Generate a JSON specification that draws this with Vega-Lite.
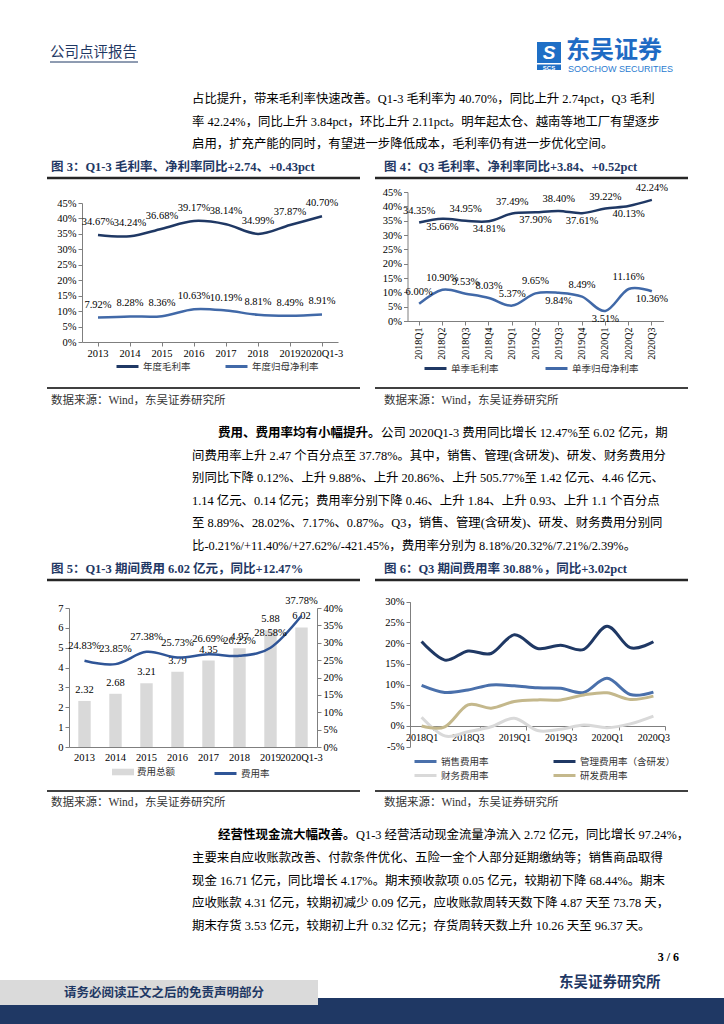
{
  "$schema": "https://vega.github.io/schema/vega-lite/v6.json",
  "width": 724,
  "height": 1024,
  "padding": 0,
  "autosize": {"type": "none"},
  "background": "#ffffff",
  "config": {
    "view": {"stroke": null},
    "axis": {"labelFont": "Liberation Serif", "labelFontSize": 10.5, "labelColor": "#000000", "domainColor": "#7f7f7f", "tickColor": "#7f7f7f", "tickSize": 4, "grid": false, "labelPadding": 2},
    "legend": {"labelFont": "Noto Sans CJK SC", "labelFontSize": 9.5, "labelColor": "#333333", "orient": "none", "direction": "horizontal", "symbolType": "M-2,0H2", "symbolSize": 121, "symbolStrokeWidth": 3, "labelOffset": 8.5, "padding": 0},
    "text": {"font": "Liberation Serif, Noto Sans CJK SC", "color": "#000000"}
  },
  "datasets": {
    "fig3": [
      {"year": "2013", "series": "年度毛利率", "value": 0.3467},
      {"year": "2014", "series": "年度毛利率", "value": 0.3424},
      {"year": "2015", "series": "年度毛利率", "value": 0.3668},
      {"year": "2016", "series": "年度毛利率", "value": 0.3917},
      {"year": "2017", "series": "年度毛利率", "value": 0.3814},
      {"year": "2018", "series": "年度毛利率", "value": 0.3499},
      {"year": "2019", "series": "年度毛利率", "value": 0.3787},
      {"year": "2020Q1-3", "series": "年度毛利率", "value": 0.4070},
      {"year": "2013", "series": "年度归母净利率", "value": 0.0792},
      {"year": "2014", "series": "年度归母净利率", "value": 0.0828},
      {"year": "2015", "series": "年度归母净利率", "value": 0.0836},
      {"year": "2016", "series": "年度归母净利率", "value": 0.1063},
      {"year": "2017", "series": "年度归母净利率", "value": 0.1019},
      {"year": "2018", "series": "年度归母净利率", "value": 0.0881},
      {"year": "2019", "series": "年度归母净利率", "value": 0.0849},
      {"year": "2020Q1-3", "series": "年度归母净利率", "value": 0.0891}
    ],
    "fig4": [
      {"q": "2018Q1", "series": "单季毛利率", "value": 0.3435},
      {"q": "2018Q2", "series": "单季毛利率", "value": 0.3566},
      {"q": "2018Q3", "series": "单季毛利率", "value": 0.3495},
      {"q": "2018Q4", "series": "单季毛利率", "value": 0.3481},
      {"q": "2019Q1", "series": "单季毛利率", "value": 0.3749},
      {"q": "2019Q2", "series": "单季毛利率", "value": 0.3790},
      {"q": "2019Q3", "series": "单季毛利率", "value": 0.3840},
      {"q": "2019Q4", "series": "单季毛利率", "value": 0.3761},
      {"q": "2020Q1", "series": "单季毛利率", "value": 0.3922},
      {"q": "2020Q2", "series": "单季毛利率", "value": 0.4013},
      {"q": "2020Q3", "series": "单季毛利率", "value": 0.4224},
      {"q": "2018Q1", "series": "单季归母净利率", "value": 0.0600},
      {"q": "2018Q2", "series": "单季归母净利率", "value": 0.1090},
      {"q": "2018Q3", "series": "单季归母净利率", "value": 0.0953},
      {"q": "2018Q4", "series": "单季归母净利率", "value": 0.0803},
      {"q": "2019Q1", "series": "单季归母净利率", "value": 0.0537},
      {"q": "2019Q2", "series": "单季归母净利率", "value": 0.0965},
      {"q": "2019Q3", "series": "单季归母净利率", "value": 0.0984},
      {"q": "2019Q4", "series": "单季归母净利率", "value": 0.0849},
      {"q": "2020Q1", "series": "单季归母净利率", "value": 0.0351},
      {"q": "2020Q2", "series": "单季归母净利率", "value": 0.1116},
      {"q": "2020Q3", "series": "单季归母净利率", "value": 0.1036}
    ],
    "fig5": [
      {"year": "2013", "total": 2.32, "rate": 0.2483},
      {"year": "2014", "total": 2.68, "rate": 0.2385},
      {"year": "2015", "total": 3.21, "rate": 0.2738},
      {"year": "2016", "total": 3.79, "rate": 0.2573},
      {"year": "2017", "total": 4.35, "rate": 0.2669},
      {"year": "2018", "total": 4.97, "rate": 0.2623},
      {"year": "2019", "total": 5.88, "rate": 0.2858},
      {"year": "2020Q1-3", "total": 6.02, "rate": 0.3778}
    ],
    "fig6": [
      {"q": "2018Q1", "series": "销售费用率", "value": 0.098},
      {"q": "2018Q2", "series": "销售费用率", "value": 0.081},
      {"q": "2018Q3", "series": "销售费用率", "value": 0.087},
      {"q": "2018Q4", "series": "销售费用率", "value": 0.099},
      {"q": "2019Q1", "series": "销售费用率", "value": 0.097},
      {"q": "2019Q2", "series": "销售费用率", "value": 0.092},
      {"q": "2019Q3", "series": "销售费用率", "value": 0.091},
      {"q": "2019Q4", "series": "销售费用率", "value": 0.081},
      {"q": "2020Q1", "series": "销售费用率", "value": 0.115},
      {"q": "2020Q2", "series": "销售费用率", "value": 0.076},
      {"q": "2020Q3", "series": "销售费用率", "value": 0.0818},
      {"q": "2018Q1", "series": "管理费用率（含研发）", "value": 0.204},
      {"q": "2018Q2", "series": "管理费用率（含研发）", "value": 0.159},
      {"q": "2018Q3", "series": "管理费用率（含研发）", "value": 0.181},
      {"q": "2018Q4", "series": "管理费用率（含研发）", "value": 0.175},
      {"q": "2019Q1", "series": "管理费用率（含研发）", "value": 0.220},
      {"q": "2019Q2", "series": "管理费用率（含研发）", "value": 0.187},
      {"q": "2019Q3", "series": "管理费用率（含研发）", "value": 0.195},
      {"q": "2019Q4", "series": "管理费用率（含研发）", "value": 0.185},
      {"q": "2020Q1", "series": "管理费用率（含研发）", "value": 0.241},
      {"q": "2020Q2", "series": "管理费用率（含研发）", "value": 0.189},
      {"q": "2020Q3", "series": "管理费用率（含研发）", "value": 0.2032},
      {"q": "2018Q1", "series": "财务费用率", "value": 0.021},
      {"q": "2018Q2", "series": "财务费用率", "value": -0.024},
      {"q": "2018Q3", "series": "财务费用率", "value": -0.014},
      {"q": "2018Q4", "series": "财务费用率", "value": -0.002},
      {"q": "2019Q1", "series": "财务费用率", "value": 0.0185},
      {"q": "2019Q2", "series": "财务费用率", "value": -0.011},
      {"q": "2019Q3", "series": "财务费用率", "value": -0.008},
      {"q": "2019Q4", "series": "财务费用率", "value": 0.0025},
      {"q": "2020Q1", "series": "财务费用率", "value": -0.004},
      {"q": "2020Q2", "series": "财务费用率", "value": 0.005},
      {"q": "2020Q3", "series": "财务费用率", "value": 0.0239},
      {"q": "2018Q1", "series": "研发费用率", "value": 0.000},
      {"q": "2018Q2", "series": "研发费用率", "value": -0.002},
      {"q": "2018Q3", "series": "研发费用率", "value": 0.051},
      {"q": "2018Q4", "series": "研发费用率", "value": 0.043},
      {"q": "2019Q1", "series": "研发费用率", "value": 0.059},
      {"q": "2019Q2", "series": "研发费用率", "value": 0.063},
      {"q": "2019Q3", "series": "研发费用率", "value": 0.063},
      {"q": "2019Q4", "series": "研发费用率", "value": 0.075},
      {"q": "2020Q1", "series": "研发费用率", "value": 0.080},
      {"q": "2020Q2", "series": "研发费用率", "value": 0.064},
      {"q": "2020Q3", "series": "研发费用率", "value": 0.0721}
    ],
    "para1": [
      {"line": 0, "text": "占比提升，带来毛利率快速改善。Q1-3 毛利率为 40.70%，同比上升 2.74pct，Q3 毛利"},
      {"line": 1, "text": "率 42.24%，同比上升 3.84pct，环比上升 2.11pct。明年起太仓、越南等地工厂有望逐步"},
      {"line": 2, "text": "启用，扩充产能的同时，有望进一步降低成本，毛利率仍有进一步优化空间。"}
    ],
    "para2": [
      {"line": 0, "part": "lead", "text": "费用、费用率均有小幅提升。"},
      {"line": 0, "part": "start", "text": "公司 2020Q1-3 费用同比增长 12.47%至 6.02 亿元，期"},
      {"line": 1, "part": "body", "text": "间费用率上升 2.47 个百分点至 37.78%。其中，销售、管理(含研发)、研发、财务费用分"},
      {"line": 2, "part": "body", "text": "别同比下降 0.12%、上升 9.88%、上升 20.86%、上升 505.77%至 1.42 亿元、4.46 亿元、"},
      {"line": 3, "part": "body", "text": "1.14 亿元、0.14 亿元；费用率分别下降 0.46、上升 1.84、上升 0.93、上升 1.1 个百分点"},
      {"line": 4, "part": "body", "text": "至 8.89%、28.02%、7.17%、0.87%。Q3，销售、管理(含研发)、研发、财务费用分别同"},
      {"line": 5, "part": "body", "text": "比-0.21%/+11.40%/+27.62%/-421.45%，费用率分别为 8.18%/20.32%/7.21%/2.39%。"}
    ],
    "para3": [
      {"line": 0, "part": "lead", "text": "经营性现金流大幅改善。"},
      {"line": 0, "part": "start", "text": "Q1-3 经营活动现金流量净流入 2.72 亿元，同比增长 97.24%，"},
      {"line": 1, "part": "body", "text": "主要来自应收账款改善、付款条件优化、五险一金个人部分延期缴纳等；销售商品取得"},
      {"line": 2, "part": "body", "text": "现金 16.71 亿元，同比增长 4.17%。期末预收款项 0.05 亿元，较期初下降 68.44%。期末"},
      {"line": 3, "part": "body", "text": "应收账款 4.31 亿元，较期初减少 0.09 亿元，应收账款周转天数下降 4.87 天至 73.78 天，"},
      {"line": 4, "part": "body", "text": "期末存货 3.53 亿元，较期初上升 0.32 亿元；存货周转天数上升 10.26 天至 96.37 天。"}
    ]
  },
  "layer": [
    {
      "layer": [
        {"data": {"values": [{}]}, "mark": {"type": "rect", "fill": "#1f3864"},
         "encoding": {"x": {"datum": 0, "type": "quantitative", "scale": {"domain": [0, 724], "range": [0, 724], "nice": false, "zero": false}, "axis": null}, "x2": {"datum": 724},
                      "y": {"datum": 998, "type": "quantitative", "scale": {"domain": [0, 1024], "range": [0, 1024], "nice": false, "zero": false}, "axis": null}, "y2": {"datum": 1024}}},
        {"data": {"values": [{}]}, "mark": {"type": "rect", "fill": "#dadada"},
         "encoding": {"x": {"datum": 0, "type": "quantitative", "scale": {"domain": [0, 724], "range": [0, 724], "nice": false, "zero": false}, "axis": null}, "x2": {"datum": 318},
                      "y": {"datum": 980, "type": "quantitative", "scale": {"domain": [0, 1024], "range": [0, 1024], "nice": false, "zero": false}, "axis": null}, "y2": {"datum": 1005}}},
        {"data": {"values": [{"t": "请务必阅读正文之后的免责声明部分"}]}, "mark": {"type": "text", "align": "left", "baseline": "middle", "font": "Noto Sans CJK SC", "fontWeight": "bold", "fontSize": 12.5, "fill": "#1f3864"},
         "encoding": {"x": {"datum": 64, "type": "quantitative", "scale": {"domain": [0, 724], "range": [0, 724], "nice": false, "zero": false}, "axis": null},
                      "y": {"datum": 992.5, "type": "quantitative", "scale": {"domain": [0, 1024], "range": [0, 1024], "nice": false, "zero": false}, "axis": null}, "text": {"field": "t"}}},
        {"data": {"values": [{"t": "东吴证券研究所"}]}, "mark": {"type": "text", "align": "left", "baseline": "middle", "font": "Noto Sans CJK SC", "fontWeight": "bold", "fontSize": 14.5, "fill": "#1f3864"},
         "encoding": {"x": {"datum": 559, "type": "quantitative", "scale": {"domain": [0, 724], "range": [0, 724], "nice": false, "zero": false}, "axis": null},
                      "y": {"datum": 983, "type": "quantitative", "scale": {"domain": [0, 1024], "range": [0, 1024], "nice": false, "zero": false}, "axis": null}, "text": {"field": "t"}}},
        {"data": {"values": [{"t": "3 / 6"}]}, "mark": {"type": "text", "align": "right", "baseline": "middle", "font": "Liberation Serif", "fontWeight": "bold", "fontSize": 12, "fill": "#000000"},
         "encoding": {"x": {"datum": 679, "type": "quantitative", "scale": {"domain": [0, 724], "range": [0, 724], "nice": false, "zero": false}, "axis": null},
                      "y": {"datum": 957, "type": "quantitative", "scale": {"domain": [0, 1024], "range": [0, 1024], "nice": false, "zero": false}, "axis": null}, "text": {"field": "t"}}},
        {"data": {"values": [{"t": "公司点评报告"}]}, "mark": {"type": "text", "align": "left", "baseline": "middle", "font": "Noto Sans CJK SC", "fontSize": 14.5, "fill": "#1f3864"},
         "encoding": {"x": {"datum": 50, "type": "quantitative", "scale": {"domain": [0, 724], "range": [0, 724], "nice": false, "zero": false}, "axis": null},
                      "y": {"datum": 53, "type": "quantitative", "scale": {"domain": [0, 1024], "range": [0, 1024], "nice": false, "zero": false}, "axis": null}, "text": {"field": "t"}}},
        {"data": {"values": [{}]}, "mark": {"type": "rule", "stroke": "#1f3864", "strokeWidth": 1},
         "encoding": {"x": {"datum": 50, "type": "quantitative", "scale": {"domain": [0, 724], "range": [0, 724], "nice": false, "zero": false}, "axis": null}, "x2": {"datum": 138},
                      "y": {"datum": 62, "type": "quantitative", "scale": {"domain": [0, 1024], "range": [0, 1024], "nice": false, "zero": false}, "axis": null}}},
        {"data": {"values": [{}]}, "mark": {"type": "rect", "fill": "#1e6fc6"},
         "encoding": {"x": {"datum": 537, "type": "quantitative", "scale": {"domain": [0, 724], "range": [0, 724], "nice": false, "zero": false}, "axis": null}, "x2": {"datum": 561},
                      "y": {"datum": 42, "type": "quantitative", "scale": {"domain": [0, 1024], "range": [0, 1024], "nice": false, "zero": false}, "axis": null}, "y2": {"datum": 63}}},
        {"data": {"values": [{"t": "S"}]}, "mark": {"type": "text", "align": "center", "baseline": "middle", "font": "Liberation Sans", "fontWeight": "bold", "fontStyle": "italic", "fontSize": 19, "fill": "#ffffff"},
         "encoding": {"x": {"datum": 549, "type": "quantitative", "scale": {"domain": [0, 724], "range": [0, 724], "nice": false, "zero": false}, "axis": null},
                      "y": {"datum": 53, "type": "quantitative", "scale": {"domain": [0, 1024], "range": [0, 1024], "nice": false, "zero": false}, "axis": null}, "text": {"field": "t"}}},
        {"data": {"values": [{}]}, "mark": {"type": "rect", "fill": "#1e6fc6"},
         "encoding": {"x": {"datum": 537, "type": "quantitative", "scale": {"domain": [0, 724], "range": [0, 724], "nice": false, "zero": false}, "axis": null}, "x2": {"datum": 561},
                      "y": {"datum": 64.5, "type": "quantitative", "scale": {"domain": [0, 1024], "range": [0, 1024], "nice": false, "zero": false}, "axis": null}, "y2": {"datum": 70}}},
        {"data": {"values": [{"t": "SCS"}]}, "mark": {"type": "text", "align": "center", "baseline": "middle", "font": "Liberation Sans", "fontWeight": "bold", "fontSize": 6, "fill": "#ffffff"},
         "encoding": {"x": {"datum": 549, "type": "quantitative", "scale": {"domain": [0, 724], "range": [0, 724], "nice": false, "zero": false}, "axis": null},
                      "y": {"datum": 67.5, "type": "quantitative", "scale": {"domain": [0, 1024], "range": [0, 1024], "nice": false, "zero": false}, "axis": null}, "text": {"field": "t"}}},
        {"data": {"values": [{"t": "东吴证券"}]}, "mark": {"type": "text", "align": "left", "baseline": "middle", "font": "Noto Sans CJK SC", "fontWeight": "bold", "fontSize": 24, "fill": "#1f6bc4"},
         "encoding": {"x": {"datum": 566, "type": "quantitative", "scale": {"domain": [0, 724], "range": [0, 724], "nice": false, "zero": false}, "axis": null},
                      "y": {"datum": 51, "type": "quantitative", "scale": {"domain": [0, 1024], "range": [0, 1024], "nice": false, "zero": false}, "axis": null}, "text": {"field": "t"}}},
        {"data": {"values": [{"t": "SOOCHOW SECURITIES"}]}, "mark": {"type": "text", "align": "left", "baseline": "middle", "font": "Liberation Sans", "fontSize": 9, "fill": "#2a7bd0"},
         "encoding": {"x": {"datum": 568, "type": "quantitative", "scale": {"domain": [0, 724], "range": [0, 724], "nice": false, "zero": false}, "axis": null},
                      "y": {"datum": 69, "type": "quantitative", "scale": {"domain": [0, 1024], "range": [0, 1024], "nice": false, "zero": false}, "axis": null}, "text": {"field": "t"}}},
        {"data": {"values": [{"t": "图 3：Q1-3 毛利率、净利率同比+2.74、+0.43pct"}]}, "mark": {"type": "text", "align": "left", "baseline": "middle", "fontWeight": "bold", "fontSize": 12.5, "fill": "#1f3864"},
         "encoding": {"x": {"datum": 51, "type": "quantitative", "scale": {"domain": [0, 724], "range": [0, 724], "nice": false, "zero": false}, "axis": null},
                      "y": {"datum": 167, "type": "quantitative", "scale": {"domain": [0, 1024], "range": [0, 1024], "nice": false, "zero": false}, "axis": null}, "text": {"field": "t"}}},
        {"data": {"values": [{"t": "图 4：Q3 毛利率、净利率同比+3.84、+0.52pct"}]}, "mark": {"type": "text", "align": "left", "baseline": "middle", "fontWeight": "bold", "fontSize": 12.5, "fill": "#1f3864"},
         "encoding": {"x": {"datum": 384, "type": "quantitative", "scale": {"domain": [0, 724], "range": [0, 724], "nice": false, "zero": false}, "axis": null},
                      "y": {"datum": 167, "type": "quantitative", "scale": {"domain": [0, 1024], "range": [0, 1024], "nice": false, "zero": false}, "axis": null}, "text": {"field": "t"}}},
        {"data": {"values": [{"t": "图 5：Q1-3 期间费用 6.02 亿元，同比+12.47%"}]}, "mark": {"type": "text", "align": "left", "baseline": "middle", "fontWeight": "bold", "fontSize": 12.5, "fill": "#1f3864"},
         "encoding": {"x": {"datum": 51, "type": "quantitative", "scale": {"domain": [0, 724], "range": [0, 724], "nice": false, "zero": false}, "axis": null},
                      "y": {"datum": 569, "type": "quantitative", "scale": {"domain": [0, 1024], "range": [0, 1024], "nice": false, "zero": false}, "axis": null}, "text": {"field": "t"}}},
        {"data": {"values": [{"t": "图 6：Q3 期间费用率 30.88%，同比+3.02pct"}]}, "mark": {"type": "text", "align": "left", "baseline": "middle", "fontWeight": "bold", "fontSize": 12.5, "fill": "#1f3864"},
         "encoding": {"x": {"datum": 384, "type": "quantitative", "scale": {"domain": [0, 724], "range": [0, 724], "nice": false, "zero": false}, "axis": null},
                      "y": {"datum": 569, "type": "quantitative", "scale": {"domain": [0, 1024], "range": [0, 1024], "nice": false, "zero": false}, "axis": null}, "text": {"field": "t"}}},
        {"data": {"values": [{"t": "数据来源：Wind，东吴证券研究所"}]}, "mark": {"type": "text", "align": "left", "baseline": "middle", "fontSize": 11.5, "fill": "#333333"},
         "encoding": {"x": {"datum": 51, "type": "quantitative", "scale": {"domain": [0, 724], "range": [0, 724], "nice": false, "zero": false}, "axis": null},
                      "y": {"datum": 401, "type": "quantitative", "scale": {"domain": [0, 1024], "range": [0, 1024], "nice": false, "zero": false}, "axis": null}, "text": {"field": "t"}}},
        {"data": {"values": [{"t": "数据来源：Wind，东吴证券研究所"}]}, "mark": {"type": "text", "align": "left", "baseline": "middle", "fontSize": 11.5, "fill": "#333333"},
         "encoding": {"x": {"datum": 384, "type": "quantitative", "scale": {"domain": [0, 724], "range": [0, 724], "nice": false, "zero": false}, "axis": null},
                      "y": {"datum": 401, "type": "quantitative", "scale": {"domain": [0, 1024], "range": [0, 1024], "nice": false, "zero": false}, "axis": null}, "text": {"field": "t"}}},
        {"data": {"values": [{"t": "数据来源：Wind，东吴证券研究所"}]}, "mark": {"type": "text", "align": "left", "baseline": "middle", "fontSize": 11.5, "fill": "#333333"},
         "encoding": {"x": {"datum": 51, "type": "quantitative", "scale": {"domain": [0, 724], "range": [0, 724], "nice": false, "zero": false}, "axis": null},
                      "y": {"datum": 803, "type": "quantitative", "scale": {"domain": [0, 1024], "range": [0, 1024], "nice": false, "zero": false}, "axis": null}, "text": {"field": "t"}}},
        {"data": {"values": [{"t": "数据来源：Wind，东吴证券研究所"}]}, "mark": {"type": "text", "align": "left", "baseline": "middle", "fontSize": 11.5, "fill": "#333333"},
         "encoding": {"x": {"datum": 384, "type": "quantitative", "scale": {"domain": [0, 724], "range": [0, 724], "nice": false, "zero": false}, "axis": null},
                      "y": {"datum": 803, "type": "quantitative", "scale": {"domain": [0, 1024], "range": [0, 1024], "nice": false, "zero": false}, "axis": null}, "text": {"field": "t"}}},
        {"data": {"values": [{}]}, "mark": {"type": "rule", "stroke": "#262626", "strokeWidth": 2.5},
         "encoding": {"x": {"datum": 47, "type": "quantitative", "scale": {"domain": [0, 724], "range": [0, 724], "nice": false, "zero": false}, "axis": null}, "x2": {"datum": 360},
                      "y": {"datum": 178, "type": "quantitative", "scale": {"domain": [0, 1024], "range": [0, 1024], "nice": false, "zero": false}, "axis": null}}},
        {"data": {"values": [{}]}, "mark": {"type": "rule", "stroke": "#262626", "strokeWidth": 2.5},
         "encoding": {"x": {"datum": 375, "type": "quantitative", "scale": {"domain": [0, 724], "range": [0, 724], "nice": false, "zero": false}, "axis": null}, "x2": {"datum": 688},
                      "y": {"datum": 178, "type": "quantitative", "scale": {"domain": [0, 1024], "range": [0, 1024], "nice": false, "zero": false}, "axis": null}}},
        {"data": {"values": [{}]}, "mark": {"type": "rule", "stroke": "#262626", "strokeWidth": 2.5},
         "encoding": {"x": {"datum": 47, "type": "quantitative", "scale": {"domain": [0, 724], "range": [0, 724], "nice": false, "zero": false}, "axis": null}, "x2": {"datum": 360},
                      "y": {"datum": 580, "type": "quantitative", "scale": {"domain": [0, 1024], "range": [0, 1024], "nice": false, "zero": false}, "axis": null}}},
        {"data": {"values": [{}]}, "mark": {"type": "rule", "stroke": "#262626", "strokeWidth": 2.5},
         "encoding": {"x": {"datum": 375, "type": "quantitative", "scale": {"domain": [0, 724], "range": [0, 724], "nice": false, "zero": false}, "axis": null}, "x2": {"datum": 688},
                      "y": {"datum": 580, "type": "quantitative", "scale": {"domain": [0, 1024], "range": [0, 1024], "nice": false, "zero": false}, "axis": null}}},
        {"data": {"values": [{}]}, "mark": {"type": "rule", "stroke": "#404040", "strokeWidth": 2},
         "encoding": {"x": {"datum": 47, "type": "quantitative", "scale": {"domain": [0, 724], "range": [0, 724], "nice": false, "zero": false}, "axis": null}, "x2": {"datum": 360},
                      "y": {"datum": 388, "type": "quantitative", "scale": {"domain": [0, 1024], "range": [0, 1024], "nice": false, "zero": false}, "axis": null}}},
        {"data": {"values": [{}]}, "mark": {"type": "rule", "stroke": "#404040", "strokeWidth": 2},
         "encoding": {"x": {"datum": 375, "type": "quantitative", "scale": {"domain": [0, 724], "range": [0, 724], "nice": false, "zero": false}, "axis": null}, "x2": {"datum": 688},
                      "y": {"datum": 388, "type": "quantitative", "scale": {"domain": [0, 1024], "range": [0, 1024], "nice": false, "zero": false}, "axis": null}}},
        {"data": {"values": [{}]}, "mark": {"type": "rule", "stroke": "#404040", "strokeWidth": 2},
         "encoding": {"x": {"datum": 47, "type": "quantitative", "scale": {"domain": [0, 724], "range": [0, 724], "nice": false, "zero": false}, "axis": null}, "x2": {"datum": 360},
                      "y": {"datum": 791, "type": "quantitative", "scale": {"domain": [0, 1024], "range": [0, 1024], "nice": false, "zero": false}, "axis": null}}},
        {"data": {"values": [{}]}, "mark": {"type": "rule", "stroke": "#404040", "strokeWidth": 2},
         "encoding": {"x": {"datum": 375, "type": "quantitative", "scale": {"domain": [0, 724], "range": [0, 724], "nice": false, "zero": false}, "axis": null}, "x2": {"datum": 688},
                      "y": {"datum": 791, "type": "quantitative", "scale": {"domain": [0, 1024], "range": [0, 1024], "nice": false, "zero": false}, "axis": null}}}
      ]
    },
    {
      "data": {"name": "para1"},
      "mark": {"type": "text", "align": "left", "baseline": "middle", "fontSize": 12.4},
      "encoding": {
        "x": {"datum": 192, "type": "quantitative", "scale": {"domain": [0, 724], "range": [0, 724], "nice": false, "zero": false}, "axis": null},
        "y": {"field": "line", "type": "quantitative", "scale": {"domain": [0, 2], "range": [99, 144], "nice": false, "zero": false}, "axis": null},
        "text": {"field": "text"}
      }
    },
    {
      "data": {"name": "para2"},
      "encoding": {
        "y": {"field": "line", "type": "quantitative", "scale": {"domain": [0, 5], "range": [433, 545.5], "nice": false, "zero": false}, "axis": null},
        "text": {"field": "text"}
      },
      "layer": [
        {"transform": [{"filter": "datum.part == 'lead'"}],
         "mark": {"type": "text", "align": "left", "baseline": "middle", "fontSize": 12.5, "fontWeight": "bold"},
         "encoding": {"x": {"datum": 218, "type": "quantitative", "scale": {"domain": [0, 724], "range": [0, 724], "nice": false, "zero": false}, "axis": null}}},
        {"transform": [{"filter": "datum.part == 'start'"}],
         "mark": {"type": "text", "align": "left", "baseline": "middle", "fontSize": 12.4},
         "encoding": {"x": {"datum": 381, "type": "quantitative", "scale": {"domain": [0, 724], "range": [0, 724], "nice": false, "zero": false}, "axis": null}}},
        {"transform": [{"filter": "datum.part == 'body'"}],
         "mark": {"type": "text", "align": "left", "baseline": "middle", "fontSize": 12.4},
         "encoding": {"x": {"datum": 192, "type": "quantitative", "scale": {"domain": [0, 724], "range": [0, 724], "nice": false, "zero": false}, "axis": null}}}
      ]
    },
    {
      "data": {"name": "para3"},
      "encoding": {
        "y": {"field": "line", "type": "quantitative", "scale": {"domain": [0, 4], "range": [835, 926], "nice": false, "zero": false}, "axis": null},
        "text": {"field": "text"}
      },
      "layer": [
        {"transform": [{"filter": "datum.part == 'lead'"}],
         "mark": {"type": "text", "align": "left", "baseline": "middle", "fontSize": 12.5, "fontWeight": "bold"},
         "encoding": {"x": {"datum": 218, "type": "quantitative", "scale": {"domain": [0, 724], "range": [0, 724], "nice": false, "zero": false}, "axis": null}}},
        {"transform": [{"filter": "datum.part == 'start'"}],
         "mark": {"type": "text", "align": "left", "baseline": "middle", "fontSize": 12.4},
         "encoding": {"x": {"datum": 356, "type": "quantitative", "scale": {"domain": [0, 724], "range": [0, 724], "nice": false, "zero": false}, "axis": null}}},
        {"transform": [{"filter": "datum.part == 'body'"}],
         "mark": {"type": "text", "align": "left", "baseline": "middle", "fontSize": 12.4},
         "encoding": {"x": {"datum": 192, "type": "quantitative", "scale": {"domain": [0, 724], "range": [0, 724], "nice": false, "zero": false}, "axis": null}}}
      ]
    },
    {
      "data": {"name": "fig3"},
      "encoding": {
        "x": {"field": "year", "type": "ordinal", "sort": null,
              "scale": {"type": "band", "domain": ["2013", "2014", "2015", "2016", "2017", "2018", "2019", "2020Q1-3"], "range": [82, 338], "paddingInner": 0, "paddingOuter": 0},
              "axis": {"orient": "bottom", "offset": -682, "labelAngle": 0, "title": null, "labelPadding": 2}},
        "y": {"field": "value", "type": "quantitative",
              "scale": {"domain": [0, 0.45], "range": [342, 203], "nice": false},
              "axis": {"orient": "left", "offset": -82, "values": [0, 0.05, 0.1, 0.15, 0.2, 0.25, 0.3, 0.35, 0.4, 0.45], "labelExpr": "round(datum.value * 100) + '%'", "title": null}}
      },
      "layer": [
        {"mark": {"type": "line", "interpolate": "cardinal", "strokeWidth": 2.5},
         "encoding": {"color": {"field": "series", "type": "nominal",
                                "scale": {"domain": ["年度毛利率", "年度归母净利率"], "range": ["#1f3864", "#4169a8"]},
                                "legend": {"title": null, "legendX": 120.5, "legendY": 359.5, "columnPadding": 28}}}},
        {"mark": {"type": "text", "baseline": "middle", "dy": -13, "fontSize": 10.5, "font": "Liberation Serif"},
         "encoding": {"text": {"field": "value", "type": "quantitative", "format": ".2%"}}}
      ]
    },
    {
      "data": {"name": "fig4"},
      "encoding": {
        "x": {"field": "q", "type": "ordinal", "sort": null,
              "scale": {"type": "band", "domain": ["2018Q1", "2018Q2", "2018Q3", "2018Q4", "2019Q1", "2019Q2", "2019Q3", "2019Q4", "2020Q1", "2020Q2", "2020Q3"], "range": [407.5, 663.5], "paddingInner": 0, "paddingOuter": 0},
              "axis": {"orient": "bottom", "offset": -703, "labelAngle": 270, "labelFontSize": 10, "title": null, "labelPadding": 2}},
        "y": {"field": "value", "type": "quantitative",
              "scale": {"domain": [0, 0.45], "range": [321, 192], "nice": false},
              "axis": {"orient": "left", "offset": -407.5, "values": [0, 0.05, 0.1, 0.15, 0.2, 0.25, 0.3, 0.35, 0.4, 0.45], "labelExpr": "round(datum.value * 100) + '%'", "title": null}}
      },
      "layer": [
        {"mark": {"type": "line", "interpolate": "cardinal", "strokeWidth": 2.5},
         "encoding": {"color": {"field": "series", "type": "nominal",
                                "scale": {"domain": ["单季毛利率", "单季归母净利率"], "range": ["#1f3864", "#4169a8"]},
                                "legend": {"title": null, "legendX": 428.5, "legendY": 361.5, "columnPadding": 40}}}},
        {"transform": [{"filter": "!((datum.series == '单季毛利率' && indexof(['2018Q2','2018Q4','2019Q2','2019Q4','2020Q2'], datum.q) >= 0) || (datum.series == '单季归母净利率' && indexof(['2019Q3','2020Q1','2020Q3'], datum.q) >= 0))"}],
         "mark": {"type": "text", "baseline": "middle", "dy": -12, "fontSize": 10.5, "font": "Liberation Serif"},
         "encoding": {"text": {"field": "value", "type": "quantitative", "format": ".2%"}}},
        {"transform": [{"filter": "(datum.series == '单季毛利率' && indexof(['2018Q2','2018Q4','2019Q2','2019Q4','2020Q2'], datum.q) >= 0) || (datum.series == '单季归母净利率' && indexof(['2019Q3','2020Q1','2020Q3'], datum.q) >= 0)"}],
         "mark": {"type": "text", "baseline": "middle", "dy": 8, "fontSize": 10.5, "font": "Liberation Serif"},
         "encoding": {"text": {"field": "value", "type": "quantitative", "format": ".2%"}}}
      ]
    },
    {
      "data": {"name": "fig5"},
      "encoding": {
        "x": {"field": "year", "type": "ordinal", "sort": null,
              "scale": {"type": "band", "domain": ["2013", "2014", "2015", "2016", "2017", "2018", "2019", "2020Q1-3"], "range": [69, 317], "paddingInner": 0.6, "paddingOuter": 0.3},
              "axis": {"orient": "bottom", "offset": -277, "labelAngle": 0, "ticks": false, "title": null, "labelPadding": 5}}
      },
      "layer": [
        {
          "encoding": {
            "y": {"field": "total", "type": "quantitative",
                  "scale": {"domain": [0, 7], "range": [747, 608], "nice": false},
                  "axis": {"orient": "left", "offset": -69, "values": [0, 1, 2, 3, 4, 5, 6, 7], "format": "d", "title": null}}
          },
          "layer": [
            {"mark": {"type": "bar"},
             "encoding": {"color": {"datum": "费用总额", "type": "nominal", "scale": {"domain": ["费用总额"], "range": ["#d9d9d9"]},
                                    "legend": {"title": null, "legendX": 117.5, "legendY": 766.5, "symbolType": "M-2,-0.6H2V0.6H-2Z", "symbolStrokeWidth": 0}}}},
            {"mark": {"type": "text", "baseline": "middle", "dy": -11, "fontSize": 10.5, "font": "Liberation Serif"},
             "encoding": {"text": {"field": "total", "type": "quantitative", "format": ".2f"}}}
          ]
        },
        {
          "encoding": {
            "y": {"field": "rate", "type": "quantitative",
                  "scale": {"domain": [0, 0.4], "range": [747, 608], "nice": false},
                  "axis": {"orient": "right", "offset": -407, "values": [0, 0.05, 0.1, 0.15, 0.2, 0.25, 0.3, 0.35, 0.4], "labelExpr": "round(datum.value * 100) + '%'", "title": null}}
          },
          "layer": [
            {"mark": {"type": "line", "interpolate": "cardinal", "strokeWidth": 2.5},
             "encoding": {"color": {"datum": "费用率", "type": "nominal", "scale": {"domain": ["费用率"], "range": ["#2f5597"]},
                                    "legend": {"title": null, "legendX": 218.5, "legendY": 766.5}}}},
            {"mark": {"type": "text", "baseline": "middle", "dy": -15, "fontSize": 10.5, "font": "Liberation Serif"},
             "encoding": {"text": {"field": "rate", "type": "quantitative", "format": ".2%"}}}
          ]
        }
      ],
      "resolve": {"scale": {"y": "independent", "color": "independent"}, "axis": {"y": "independent"}, "legend": {"color": "independent"}}
    },
    {
      "data": {"name": "fig6"},
      "encoding": {
        "x": {"field": "q", "type": "ordinal", "sort": null,
              "scale": {"type": "band", "domain": ["2018Q1", "2018Q2", "2018Q3", "2018Q4", "2019Q1", "2019Q2", "2019Q3", "2019Q4", "2020Q1", "2020Q2", "2020Q3"], "range": [410, 665], "paddingInner": 0, "paddingOuter": 0},
              "axis": {"orient": "bottom", "offset": -298, "values": ["2018Q1", "2018Q3", "2019Q1", "2019Q3", "2020Q1", "2020Q3"], "tickBand": "extent", "labelAngle": 0, "labelFontSize": 10, "title": null, "labelPadding": 2}},
        "y": {"field": "value", "type": "quantitative",
              "scale": {"domain": [-0.05, 0.3], "range": [746.7, 601.7], "nice": false},
              "axis": {"orient": "left", "offset": -410, "values": [-0.05, 0, 0.05, 0.1, 0.15, 0.2, 0.25, 0.3], "labelExpr": "round(datum.value * 100) + '%'", "title": null}}
      },
      "layer": [
        {"mark": {"type": "line", "interpolate": "cardinal", "strokeWidth": 3},
         "encoding": {"color": {"field": "series", "type": "nominal",
                                "scale": {"domain": ["销售费用率", "管理费用率（含研发）", "财务费用率", "研发费用率"], "range": ["#4a70ab", "#1f3864", "#d9d9d9", "#c4b88c"]},
                                "legend": {"title": null, "legendX": 418.5, "legendY": 754.5, "columns": 2, "columnPadding": 58, "rowPadding": 1}}}}
      ]
    }
  ],
  "resolve": {"scale": {"x": "independent", "y": "independent", "color": "independent"}, "axis": {"x": "independent", "y": "independent"}, "legend": {"color": "independent"}}
}
